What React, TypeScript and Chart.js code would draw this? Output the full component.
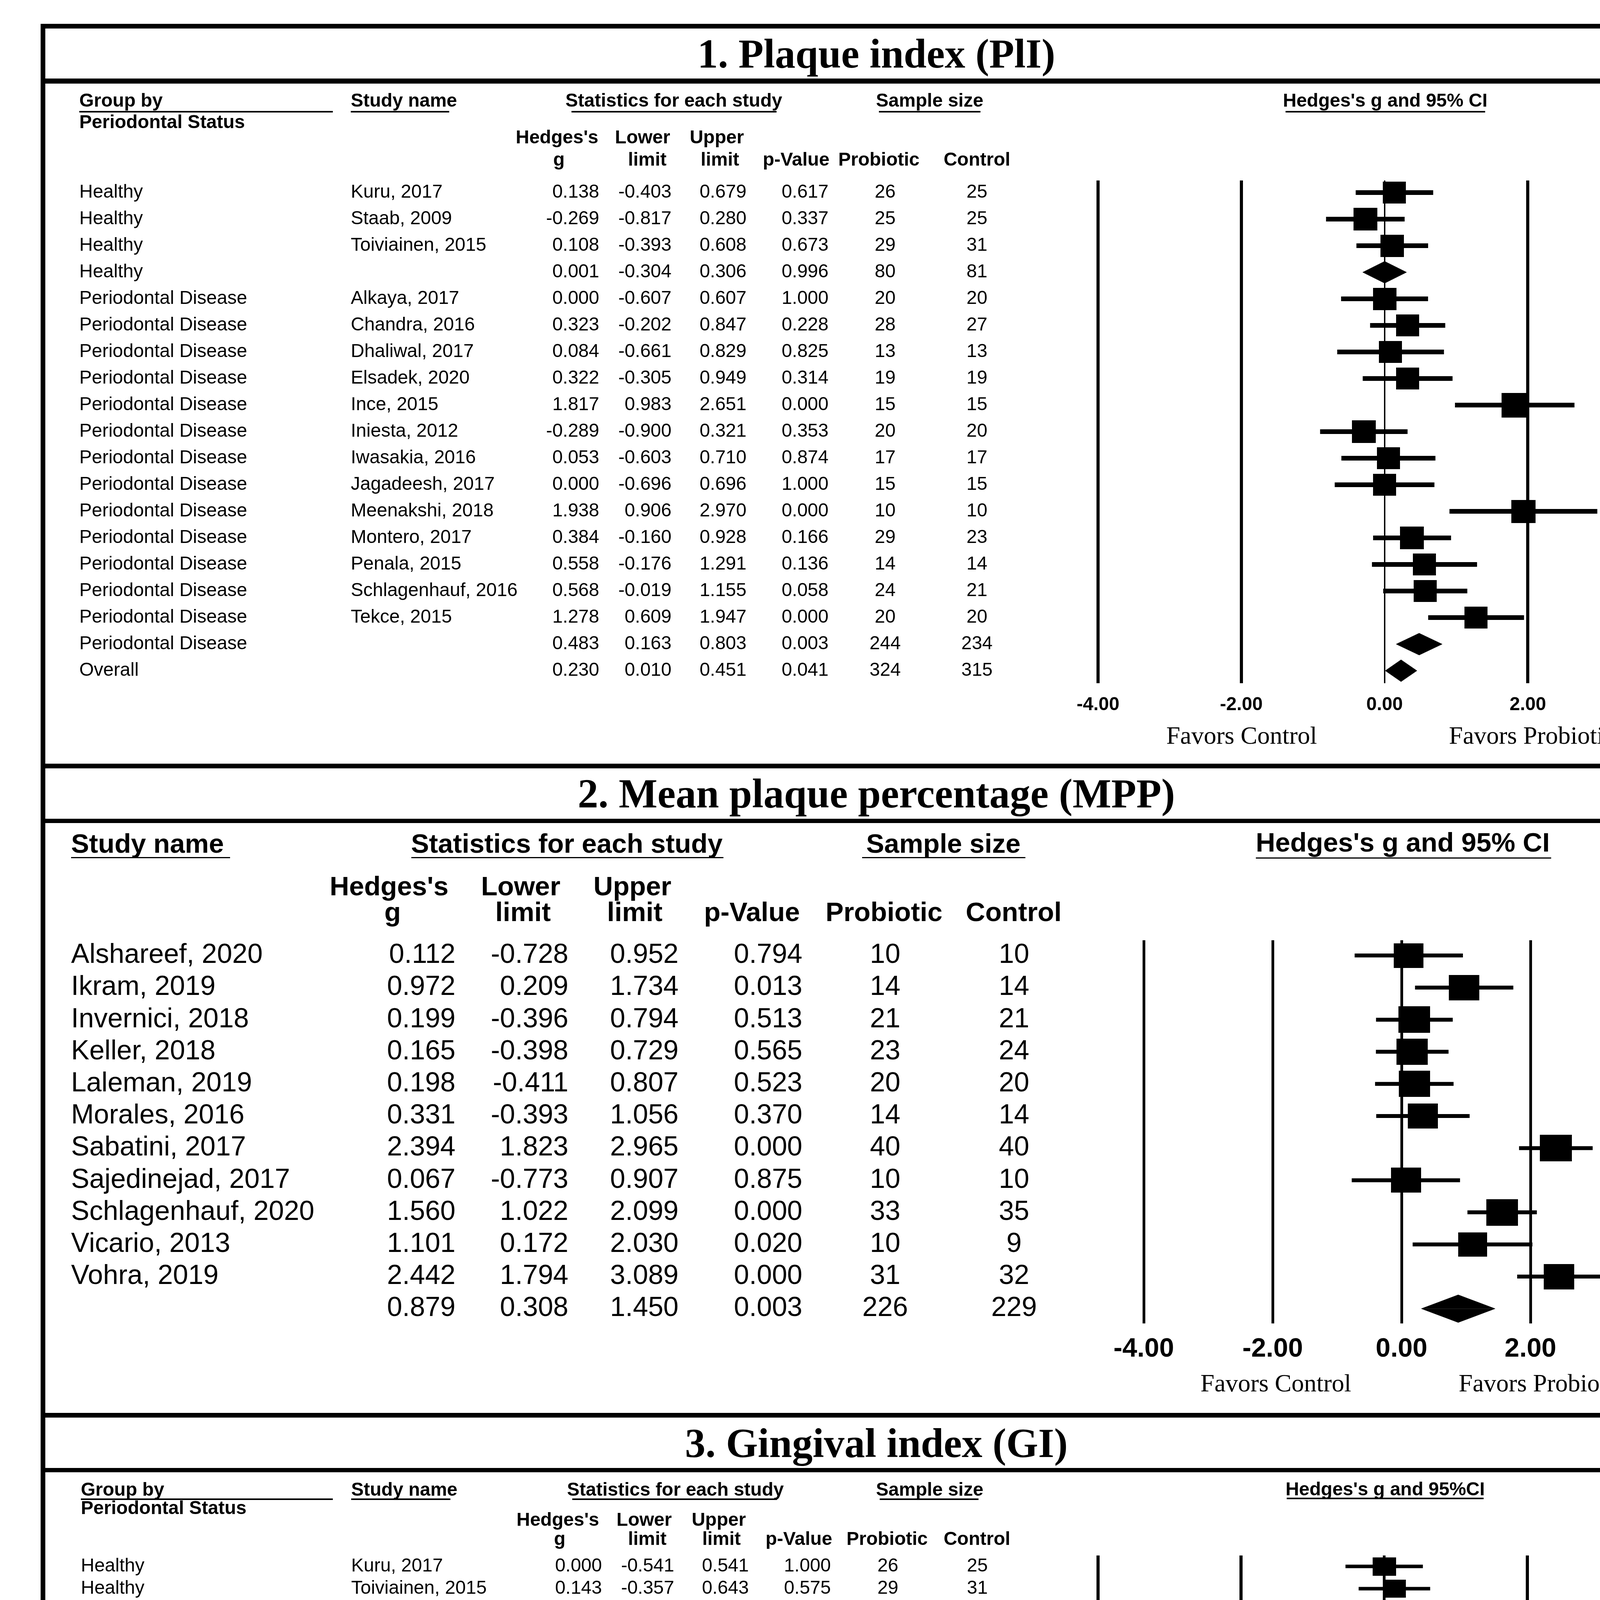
import React, { useEffect, useRef } from 'react';
import { Chart, registerables } from 'chart.js';

Chart.register(...registerables);

const SANS = '"Liberation Sans", Arial, Helvetica, sans-serif';
const SERIF = '"Liberation Serif", "Times New Roman", Times, serif';

// ---------- shared labels ----------
const xTickLabels = ['-4.00', '-2.00', '0.00', '2.00', '4.00'];
const favorsLabels = ['Favors Control', 'Favors Probiotics'];
const panelTitles = ['1. Plaque index (PlI)', '2. Mean plaque percentage (MPP)', '3. Gingival index (GI)'];

// ---------- 1. Plaque index (PlI) ----------
const PD = 'Periodontal Disease';
const pliGroup = ['Healthy', 'Healthy', 'Healthy', 'Healthy', PD, PD, PD, PD, PD, PD, PD, PD, PD, PD, PD, PD, PD, PD, 'Overall'];
const pliStudy = ['Kuru, 2017', 'Staab, 2009', 'Toiviainen, 2015', '', 'Alkaya, 2017', 'Chandra, 2016', 'Dhaliwal, 2017', 'Elsadek, 2020', 'Ince, 2015', 'Iniesta, 2012', 'Iwasakia, 2016', 'Jagadeesh, 2017', 'Meenakshi, 2018', 'Montero, 2017', 'Penala, 2015', 'Schlagenhauf, 2016', 'Tekce, 2015', '', ''];
const pliG = [0.138, -0.269, 0.108, 0.001, 0.000, 0.323, 0.084, 0.322, 1.817, -0.289, 0.053, 0.000, 1.938, 0.384, 0.558, 0.568, 1.278, 0.483, 0.230];
const pliLower = [-0.403, -0.817, -0.393, -0.304, -0.607, -0.202, -0.661, -0.305, 0.983, -0.900, -0.603, -0.696, 0.906, -0.160, -0.176, -0.019, 0.609, 0.163, 0.010];
const pliUpper = [0.679, 0.280, 0.608, 0.306, 0.607, 0.847, 0.829, 0.949, 2.651, 0.321, 0.710, 0.696, 2.970, 0.928, 1.291, 1.155, 1.947, 0.803, 0.451];
const pliP = [0.617, 0.337, 0.673, 0.996, 1.000, 0.228, 0.825, 0.314, 0.000, 0.353, 0.874, 1.000, 0.000, 0.166, 0.136, 0.058, 0.000, 0.003, 0.041];
const pliProbiotic = [26, 25, 29, 80, 20, 28, 13, 19, 15, 20, 17, 15, 10, 29, 14, 24, 20, 244, 324];
const pliControl = [25, 25, 31, 81, 20, 27, 13, 19, 15, 20, 17, 15, 10, 23, 14, 21, 20, 234, 315];
// relative study weight (box size); null = pooled (diamond) row
const pliWeight: (number | null)[] = [0.98, 1.02, 1.0, null, 1.0, 0.98, 0.98, 0.98, 1.11, 1.02, 0.98, 0.98, 1.04, 1.02, 0.98, 0.98, 0.98, null, null];

// ---------- 2. Mean plaque percentage (MPP) ----------
const mppStudy = ['Alshareef, 2020', 'Ikram, 2019', 'Invernici, 2018', 'Keller, 2018', 'Laleman, 2019', 'Morales, 2016', 'Sabatini, 2017', 'Sajedinejad, 2017', 'Schlagenhauf, 2020', 'Vicario, 2013', 'Vohra, 2019', ''];
const mppG = [0.112, 0.972, 0.199, 0.165, 0.198, 0.331, 2.394, 0.067, 1.560, 1.101, 2.442, 0.879];
const mppLower = [-0.728, 0.209, -0.396, -0.398, -0.411, -0.393, 1.823, -0.773, 1.022, 0.172, 1.794, 0.308];
const mppUpper = [0.952, 1.734, 0.794, 0.729, 0.807, 1.056, 2.965, 0.907, 2.099, 2.030, 3.089, 1.450];
const mppP = [0.794, 0.013, 0.513, 0.565, 0.523, 0.370, 0.000, 0.875, 0.000, 0.020, 0.000, 0.003];
const mppProbiotic = [10, 14, 21, 23, 20, 14, 40, 10, 33, 10, 31, 226];
const mppControl = [10, 14, 21, 24, 20, 14, 40, 10, 35, 9, 32, 229];
const mppWeight: (number | null)[] = [0.97, 1.0, 1.04, 1.03, 1.03, 0.99, 1.05, 0.99, 1.04, 0.95, 1.0, null];

// ---------- 3. Gingival index (GI) ----------
const giGroup = ['Healthy', 'Healthy', 'Healthy', PD, PD, PD, PD, PD, PD, PD, PD, PD, PD, PD, PD, PD, PD, PD, 'Overall'];
const giStudy = ['Kuru, 2017', 'Toiviainen, 2015', '', 'Alkaya, 2017', 'Chandra, 2016', 'Dhaliwal, 2017', 'Ince, 2015', 'Iniesta, 2012', 'Iwasakia, 2016', 'Jagadeesh, 2017', 'Meenakshi, 2018', 'Montero, 2017', 'Oda, 2019', 'Sajedinejad, 2017', 'Schlagenhauf, 2016', 'Schlagenhauf, 2020', 'Tekce, 2015', '', ''];
const giG = [0.000, 0.143, 0.077, 0.113, 0.494, 0.082, 2.745, 0.023, 0.000, 0.172, 2.065, 0.112, 1.846, 0.336, 1.087, 2.303, 2.098, 0.920, 0.377];
const giLower = [-0.541, -0.357, -0.290, -0.495, -0.035, -0.651, 1.761, -0.584, -0.640, -0.526, 1.009, -0.428, 0.894, -0.510, 0.470, 1.694, 1.336, 0.426, 0.082];
const giUpper = [0.541, 0.643, 0.444, 0.721, 1.023, 0.814, 3.728, 0.631, 0.640, 0.870, 3.120, 0.651, 2.798, 1.182, 1.705, 2.912, 2.860, 1.414, 0.672];
const giP = [1.000, 0.575, 0.681, 0.717, 0.067, 0.827, 0.000, 0.941, 1.000, 0.629, 0.000, 0.685, 0.000, 0.436, 0.001, 0.000, 0.000, 0.000, 0.012];
const giProbiotic = [26, 29, 55, 20, 28, 14, 15, 20, 19, 15, 10, 29, 12, 10, 24, 33, 20, 269, 324];
const giControl = [25, 31, 56, 20, 27, 13, 15, 20, 17, 15, 10, 23, 11, 10, 21, 35, 20, 257, 313];
const giWeight: (number | null)[] = [1.0, 0.98, null, 1.0, 1.0, 1.0, 1.03, 1.0, 1.0, 1.0, 1.0, 1.0, 1.01, 1.0, 1.0, 1.04, 1.0, null, null];

// ---------- layout ----------
const CANVAS_LEFT = 116;
const CANVAS_W = 4254;

type Header = { text: string; x: number; y: number; align: CanvasTextAlign };
type Underline = { x1: number; x2: number; y: number; h: number };

type PanelProps = {
  top: number; height: number;
  plotLeft: number; plotRight: number; plotTop: number; plotBottom: number;
  row0: number; rowStep: number;
  group?: string[]; study: string[]; g: number[]; lower: number[]; upper: number[]; p: number[];
  prob: number[]; ctrl: number[]; weight: (number | null)[];
  cols: { group?: number; study: number; g: number; lower: number; upper: number; p: number; prob: number; ctrl: number };
  bodyFont: string; headerFont: string;
  headers: Header[]; underlines: Underline[];
  marker: { w: number; h: number }; ciWidth: number; gridW: number; zeroW: number; diamondHalf: number;
  tickSize: number; tickPad: number;
  favorsY: number; favorsX: [number, number]; favorsSize: number;
};

function ForestPanel(P: PanelProps) {
  const ref = useRef<HTMLCanvasElement | null>(null);
  useEffect(() => {
    const canvas = ref.current;
    if (!canvas) return;
    const ox = CANVAS_LEFT;
    const oy = P.top;
    const n = P.g.length;
    const studyIdx: number[] = [];
    for (let i = 0; i < n; i++) if (P.weight[i] != null) studyIdx.push(i);

    const datasets: any[] = [];
    // confidence-interval whiskers
    studyIdx.forEach((i) => {
      datasets.push({
        type: 'line',
        data: [{ x: P.lower[i], y: i }, { x: P.upper[i], y: i }],
        borderColor: '#000', borderWidth: P.ciWidth, borderCapStyle: 'butt',
        pointRadius: 0, fill: false, order: 2,
      });
    });
    // study boxes
    const imgs = studyIdx.map((i) => {
      const w = Math.round(P.marker.w * (P.weight[i] as number));
      const h = Math.round(P.marker.h * (P.weight[i] as number));
      const cv = document.createElement('canvas');
      cv.width = w; cv.height = h;
      const cx = cv.getContext('2d')!;
      cx.fillStyle = '#000';
      cx.fillRect(0, 0, w, h);
      return cv;
    });
    datasets.push({
      type: 'scatter',
      data: studyIdx.map((i) => ({ x: P.g[i], y: i })),
      pointStyle: (c: any) => imgs[c.dataIndex],
      pointRadius: 20, order: 0,
    });
    // pooled diamonds (two halves, each filled to the row line)
    for (let i = 0; i < n; i++) {
      if (P.weight[i] != null) continue;
      for (const s of [-1, 1]) {
        datasets.push({
          type: 'line',
          data: [{ x: P.lower[i], y: i }, { x: P.g[i], y: i + s * P.diamondHalf }, { x: P.upper[i], y: i }],
          borderColor: '#000', backgroundColor: '#000', borderWidth: 1,
          pointRadius: 0, tension: 0, fill: { value: i }, order: 1,
        });
      }
    }

    const tablePlugin = {
      id: 'forestTable',
      afterDraw(chart: any) {
        const ctx: CanvasRenderingContext2D = chart.ctx;
        const ys = chart.scales.y;
        const xs = chart.scales.x;
        ctx.save();
        ctx.fillStyle = '#000';
        ctx.textBaseline = 'middle';
        ctx.font = P.headerFont;
        P.headers.forEach((h) => {
          ctx.textAlign = h.align;
          ctx.fillText(h.text, h.x - ox, h.y - oy);
        });
        P.underlines.forEach((u) => ctx.fillRect(u.x1 - ox, u.y - oy, u.x2 - u.x1, u.h));
        ctx.font = P.bodyFont;
        for (let i = 0; i < n; i++) {
          const py = ys.getPixelForValue(i);
          const put = (t: string, x: number, a: CanvasTextAlign) => {
            ctx.textAlign = a;
            ctx.fillText(t, x - ox, py);
          };
          if (P.group && P.cols.group != null) put(P.group[i], P.cols.group, 'left');
          put(P.study[i], P.cols.study, 'left');
          put(P.g[i].toFixed(3), P.cols.g, 'right');
          put(P.lower[i].toFixed(3), P.cols.lower, 'right');
          put(P.upper[i].toFixed(3), P.cols.upper, 'right');
          put(P.p[i].toFixed(3), P.cols.p, 'right');
          put(String(P.prob[i]), P.cols.prob, 'center');
          put(String(P.ctrl[i]), P.cols.ctrl, 'center');
        }
        ctx.font = `${P.favorsSize}px ${SERIF}`;
        ctx.textAlign = 'center';
        ctx.fillText(favorsLabels[0], xs.getPixelForValue(P.favorsX[0]), P.favorsY - oy);
        ctx.fillText(favorsLabels[1], xs.getPixelForValue(P.favorsX[1]), P.favorsY - oy);
        ctx.restore();
      },
    };

    const chart = new Chart(canvas, {
      type: 'scatter',
      data: { datasets },
      options: {
        responsive: false,
        animation: false,
        devicePixelRatio: 1,
        events: [],
        layout: {
          padding: {
            left: P.plotLeft - ox,
            right: ox + CANVAS_W - P.plotRight,
            top: P.plotTop - oy,
            bottom: 0,
          },
        },
        scales: {
          x: {
            type: 'linear', position: 'bottom', min: -4, max: 4,
            ticks: {
              stepSize: 2, autoSkip: false, maxRotation: 0, minRotation: 0,
              padding: P.tickPad, color: '#000',
              font: { family: SANS, size: P.tickSize, weight: 'bold' },
              callback: (_v: any, i: number) => xTickLabels[i],
            },
            grid: {
              drawTicks: false, color: '#000',
              lineWidth: (c: any) => (c.tick && c.tick.value === 0 ? P.zeroW : P.gridW),
            },
            border: { display: false },
            afterFit: (s: any) => { s.height = oy + P.height - P.plotBottom; },
          },
          y: {
            type: 'linear', display: false, reverse: true,
            min: (P.plotTop - P.row0) / P.rowStep,
            max: (P.plotBottom - P.row0) / P.rowStep,
          },
        },
        plugins: { legend: { display: false }, tooltip: { enabled: false } },
      } as any,
      plugins: [tablePlugin as any],
    });
    return () => chart.destroy();
  }, []);
  return (
    <canvas
      ref={ref}
      width={CANVAS_W}
      height={P.height}
      style={{ position: 'absolute', left: CANVAS_LEFT, top: P.top, width: CANVAS_W, height: P.height }}
    />
  );
}

const smallHead = `bold 48px ${SANS}`;
const smallBody = `48px ${SANS}`;

const panel1: PanelProps = {
  top: 214, height: 1741,
  plotLeft: 2811, plotRight: 4278, plotTop: 462, plotBottom: 1749,
  row0: 493, rowStep: 68.0,
  group: pliGroup, study: pliStudy, g: pliG, lower: pliLower, upper: pliUpper, p: pliP,
  prob: pliProbiotic, ctrl: pliControl, weight: pliWeight,
  cols: { group: 203, study: 898, g: 1534, lower: 1719, upper: 1911, p: 2121, prob: 2266, ctrl: 2501 },
  bodyFont: smallBody, headerFont: smallHead,
  headers: [
    { text: 'Group by', x: 203, y: 260, align: 'left' },
    { text: 'Study name', x: 898, y: 260, align: 'left' },
    { text: 'Statistics for each study', x: 1725, y: 260, align: 'center' },
    { text: 'Sample size', x: 2380, y: 260, align: 'center' },
    { text: "Hedges's g and 95% CI", x: 3546, y: 260, align: 'center' },
    { text: 'Periodontal Status', x: 203, y: 315, align: 'left' },
    { text: "Hedges's", x: 1426, y: 354, align: 'center' },
    { text: 'Lower', x: 1645, y: 354, align: 'center' },
    { text: 'Upper', x: 1835, y: 354, align: 'center' },
    { text: 'g', x: 1431, y: 411, align: 'center' },
    { text: 'limit', x: 1657, y: 411, align: 'center' },
    { text: 'limit', x: 1843, y: 411, align: 'center' },
    { text: 'p-Value', x: 2038, y: 411, align: 'center' },
    { text: 'Probiotic', x: 2250, y: 411, align: 'center' },
    { text: 'Control', x: 2501, y: 411, align: 'center' },
  ],
  underlines: [
    { x1: 203, x2: 852, y: 284, h: 4 },
    { x1: 898, x2: 1150, y: 284, h: 4 },
    { x1: 1463, x2: 1988, y: 284, h: 4 },
    { x1: 2250, x2: 2510, y: 284, h: 4 },
    { x1: 3291, x2: 3802, y: 284, h: 4 },
  ],
  marker: { w: 60, h: 57 }, ciWidth: 12, gridW: 8, zeroW: 3.5, diamondHalf: 0.41,
  tickSize: 48, tickPad: 27,
  favorsY: 1887, favorsX: [-1.995, 2.125], favorsSize: 64,
};

const panel2: PanelProps = {
  top: 2107, height: 1510,
  plotLeft: 2928, plotRight: 4248, plotTop: 2407, plotBottom: 3388,
  row0: 2446, rowStep: 82.2,
  study: mppStudy, g: mppG, lower: mppLower, upper: mppUpper, p: mppP,
  prob: mppProbiotic, ctrl: mppControl, weight: mppWeight,
  cols: { study: 182, g: 1166, lower: 1455, upper: 1737, p: 2054, prob: 2266, ctrl: 2596 },
  bodyFont: `70px ${SANS}`, headerFont: `bold 69px ${SANS}`,
  headers: [
    { text: 'Study name', x: 182, y: 2164, align: 'left' },
    { text: 'Statistics for each study', x: 1451, y: 2164, align: 'center' },
    { text: 'Sample size', x: 2415, y: 2164, align: 'center' },
    { text: "Hedges's g and 95% CI", x: 3591, y: 2161, align: 'center' },
    { text: "Hedges's", x: 996, y: 2273, align: 'center' },
    { text: 'Lower', x: 1333, y: 2273, align: 'center' },
    { text: 'Upper', x: 1619, y: 2273, align: 'center' },
    { text: 'g', x: 1005, y: 2339, align: 'center' },
    { text: 'limit', x: 1339, y: 2339, align: 'center' },
    { text: 'limit', x: 1625, y: 2339, align: 'center' },
    { text: 'p-Value', x: 1925, y: 2339, align: 'center' },
    { text: 'Probiotic', x: 2263, y: 2339, align: 'center' },
    { text: 'Control', x: 2595, y: 2339, align: 'center' },
  ],
  underlines: [
    { x1: 182, x2: 589, y: 2194, h: 3 },
    { x1: 1053, x2: 1852, y: 2194, h: 3 },
    { x1: 2207, x2: 2625, y: 2194, h: 3 },
    { x1: 3215, x2: 3971, y: 2195, h: 3 },
  ],
  marker: { w: 78, h: 65 }, ciWidth: 10, gridW: 7, zeroW: 7, diamondHalf: 0.43,
  tickSize: 68, tickPad: 25,
  favorsY: 3545, favorsX: [-1.95, 2.25], favorsSize: 64,
};

const panel3: PanelProps = {
  top: 3769, height: 1580,
  plotLeft: 2811, plotRight: 4276, plotTop: 3982, plotBottom: 5061,
  row0: 4010, rowStep: 56.9,
  group: giGroup, study: giStudy, g: giG, lower: giLower, upper: giUpper, p: giP,
  prob: giProbiotic, ctrl: giControl, weight: giWeight,
  cols: { group: 207, study: 899, g: 1541, lower: 1726, upper: 1917, p: 2127, prob: 2273, ctrl: 2502 },
  bodyFont: smallBody, headerFont: smallHead,
  headers: [
    { text: 'Group by', x: 207, y: 3816, align: 'left' },
    { text: 'Study name', x: 899, y: 3816, align: 'left' },
    { text: 'Statistics for each study', x: 1729, y: 3816, align: 'center' },
    { text: 'Sample size', x: 2380, y: 3816, align: 'center' },
    { text: "Hedges's g and 95%CI", x: 3546, y: 3815, align: 'center' },
    { text: 'Periodontal Status', x: 207, y: 3863, align: 'left' },
    { text: "Hedges's", x: 1428, y: 3893, align: 'center' },
    { text: 'Lower', x: 1649, y: 3893, align: 'center' },
    { text: 'Upper', x: 1840, y: 3893, align: 'center' },
    { text: 'g', x: 1433, y: 3942, align: 'center' },
    { text: 'limit', x: 1657, y: 3942, align: 'center' },
    { text: 'limit', x: 1847, y: 3942, align: 'center' },
    { text: 'p-Value', x: 2045, y: 3942, align: 'center' },
    { text: 'Probiotic', x: 2271, y: 3942, align: 'center' },
    { text: 'Control', x: 2501, y: 3942, align: 'center' },
  ],
  underlines: [
    { x1: 207, x2: 852, y: 3836, h: 4 },
    { x1: 899, x2: 1153, y: 3836, h: 4 },
    { x1: 1465, x2: 1989, y: 3836, h: 4 },
    { x1: 2252, x2: 2505, y: 3836, h: 4 },
    { x1: 3294, x2: 3798, y: 3834, h: 4 },
  ],
  marker: { w: 60, h: 47 }, ciWidth: 9, gridW: 8, zeroW: 7, diamondHalf: 0.44,
  tickSize: 48, tickPad: 15,
  favorsY: 5233, favorsX: [-1.93, 2.17], favorsSize: 64,
};

const FRAME_L = 104;
const FRAME_T = 61;
const FRAME_W = 4279;
const FRAME_H = 5300;
const hLines = [
  { y: 201, h: 13 },
  { y: 1955, h: 12 },
  { y: 2096, h: 11 },
  { y: 3617, h: 12 },
  { y: 3758, h: 11 },
];
const titleTops = [85, 1979, 3642];

export default function App() {
  return (
    <div style={{ position: 'absolute', left: 0, top: 0, width: 4437, height: 5498, background: '#fff', overflow: 'hidden' }}>
      <div
        style={{
          position: 'absolute', left: FRAME_L, top: FRAME_T, width: FRAME_W, height: FRAME_H,
          border: '12px solid #000', boxSizing: 'border-box',
        }}
      />
      {hLines.map((l, i) => (
        <div key={i} style={{ position: 'absolute', left: FRAME_L, top: l.y, width: FRAME_W, height: l.h, background: '#000' }} />
      ))}
      {panelTitles.map((t, i) => (
        <div
          key={t}
          style={{
            position: 'absolute', left: FRAME_L, top: titleTops[i], width: FRAME_W,
            textAlign: 'center', font: `bold 105px ${SERIF}`, lineHeight: '105px',
            whiteSpace: 'nowrap', color: '#000',
          }}
        >
          {t}
        </div>
      ))}
      <ForestPanel {...panel1} />
      <ForestPanel {...panel2} />
      <ForestPanel {...panel3} />
    </div>
  );
}
